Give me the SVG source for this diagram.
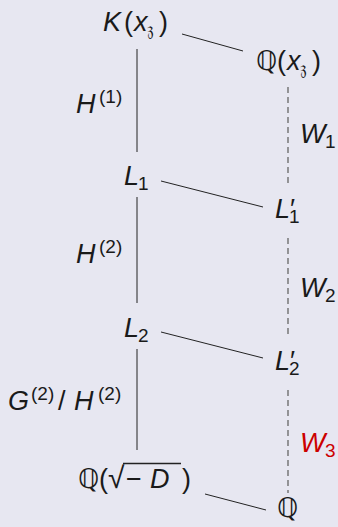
<svg xmlns="http://www.w3.org/2000/svg" width="338" height="527" viewBox="0 0 338 527">
<style>
.t{font-family:"Liberation Sans","DejaVu Sans",sans-serif;font-size:27px;fill:#1a1a1a}
.i{font-style:italic}
.s{font-size:19px}
.r{fill:#cc0000}
.ln{stroke:#222;stroke-width:1;fill:none}
.dl{stroke:#666;stroke-width:1.3;stroke-dasharray:6 4;fill:none}
</style>
<rect width="338" height="527" fill="#e7e7f1"/>
<g id="connectors">
<line class="ln" x1="137" y1="49" x2="137" y2="152"/>
<line class="ln" x1="137" y1="197" x2="137" y2="303"/>
<line class="ln" x1="137" y1="349" x2="137" y2="450"/>
<line class="ln" x1="182" y1="34" x2="243" y2="51"/>
<line class="ln" x1="161" y1="181" x2="263" y2="207"/>
<line class="ln" x1="161" y1="332" x2="263" y2="358"/>
<line class="ln" x1="205" y1="494" x2="266" y2="510"/>
<line class="dl" x1="288" y1="87" x2="288" y2="187"/>
<line class="dl" x1="288" y1="238" x2="288" y2="338"/>
<line class="dl" x1="288" y1="390" x2="288" y2="493"/>
</g>
<g id="labels">
<text class="t" y="113"><tspan class="i" x="76">H</tspan><tspan class="s" x="99" dy="-10">(1)</tspan></text>
<text class="t" y="263"><tspan class="i" x="76">H</tspan><tspan class="s" x="99" dy="-10">(2)</tspan></text>
<text class="t" y="410"><tspan class="i" x="8">G</tspan><tspan class="s" x="31" dy="-10">(2)</tspan><tspan x="58" dy="10">/</tspan><tspan class="i" x="74">H</tspan><tspan class="s" x="98" dy="-10">(2)</tspan></text>
<text class="t" y="143"><tspan class="i" x="300">W</tspan><tspan class="s" x="325" dy="5">1</tspan></text>
<text class="t" y="297"><tspan class="i" x="300">W</tspan><tspan class="s" x="325" dy="5">2</tspan></text>
<text class="t r" y="452"><tspan class="i" x="300">W</tspan><tspan class="s" x="325" dy="5">3</tspan></text>
</g>
<g id="node-Kx">
<text class="t" y="31"><tspan class="i" x="103">K</tspan><tspan x="124">(</tspan><tspan class="i" x="134">x</tspan><tspan class="s" x="147" dy="5">𝔷</tspan><tspan x="159" dy="-5">)</tspan></text>
</g>
<g id="node-Qx">
<text class="t" y="70"><tspan x="256">ℚ</tspan><tspan x="277">(</tspan><tspan class="i" x="287">x</tspan><tspan class="s" x="300" dy="5">𝔷</tspan><tspan x="312" dy="-5">)</tspan></text>
</g>
<g id="node-L1">
<text class="t" y="185"><tspan class="i" x="124">L</tspan><tspan class="s" x="138" dy="5">1</tspan></text>
</g>
<g id="node-L1p">
<text class="t" y="218"><tspan class="i" x="275">L</tspan><tspan x="290">′</tspan><tspan class="s" x="289" dy="5">1</tspan></text>
</g>
<g id="node-L2">
<text class="t" y="337"><tspan class="i" x="124">L</tspan><tspan class="s" x="138" dy="5">2</tspan></text>
</g>
<g id="node-L2p">
<text class="t" y="370"><tspan class="i" x="275">L</tspan><tspan x="290">′</tspan><tspan class="s" x="289" dy="5">2</tspan></text>
</g>
<g id="node-QD">
<text class="t" y="488"><tspan x="78">ℚ</tspan><tspan x="99">(</tspan><tspan x="108" style="font-size:30px">√</tspan><tspan x="126">−</tspan><tspan class="i" x="150">D</tspan><tspan x="182">)</tspan></text>
<line class="ln" x1="123" y1="463.5" x2="181" y2="463.5" style="stroke-width:1.3"/>
</g>
<g id="node-Q">
<text class="t" y="517"><tspan x="277">ℚ</tspan></text>
</g>
</svg>
